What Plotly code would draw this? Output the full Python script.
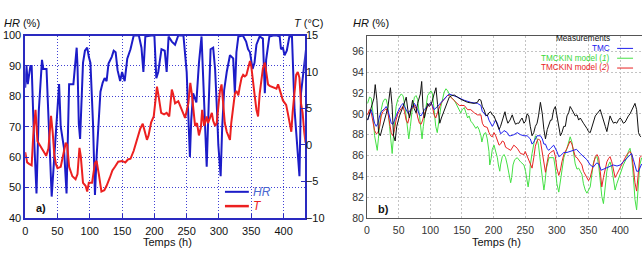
import plotly.graph_objects as go

# ---------------- Panel a) data ----------------
hr_time = [0, 2, 4, 8, 10, 13, 17.5, 21, 26, 28, 33, 37, 41, 45, 49, 52.5, 55, 60, 64, 67, 68, 74.6,
           77.7, 79.7, 81, 83, 85, 87, 89.5, 92.5, 96, 98.5, 101, 105, 108, 110.5, 113, 116.5, 120,
           123, 126, 129, 134, 137, 140, 143, 147, 150, 154, 158, 163, 168, 176, 180, 183, 186, 195,
           200, 203, 206, 211, 216, 219, 222, 227, 232, 237, 245, 250, 253, 255, 257, 260, 265, 269,
           273, 276, 278, 281, 284, 287, 291, 294, 297, 299, 302.6, 305, 308, 312, 317, 322, 324.6,
           327, 330, 337, 342, 345, 348, 350, 352, 355, 358, 363, 368, 371, 373, 378, 384, 390, 394,
           396, 399, 401.5, 405, 409, 413, 417, 422, 424.6, 427, 430, 432, 435]
hr_values = [82.8, 90, 84, 90, 90, 70, 48, 75, 92, 89, 89, 70, 47, 60, 75, 84, 70, 63, 48, 70, 84, 84,
             93, 96, 90, 71, 66, 75, 91, 95, 96, 93, 91, 71, 47.5, 60, 68, 81.5, 84.5,
             86, 85, 90.8, 93, 95, 94.5, 88.6, 85, 88, 85, 92.4, 95.5, 100, 100, 96, 88, 99.7, 100,
             100, 86, 88, 95.5, 95, 88, 99.7, 98, 97, 100, 100, 88, 72, 60, 72, 81, 78, 91,
             99.7, 85, 70, 56.8, 76.7, 95.5, 96, 89, 75, 64, 53.7, 70, 82, 88, 93.5, 92.5, 81,
             94.5, 99.7, 100, 98, 95.5, 94.5, 92, 89, 91, 97, 99.7, 99, 81, 92, 99.7, 100, 100, 99.7,
             95.5, 96, 93.5, 95, 99.7, 99.7, 75.6, 60, 53.7, 81, 87, 89, 96]

t_time = [0, 3, 6, 10, 12.5, 16, 19, 22.5, 27.5, 32.5, 36, 40, 42.5, 45, 47.5, 50, 55, 58, 62.8, 65,
          68, 73, 78, 81, 84, 86, 89.5, 93.5, 96, 98.5, 103.5, 108, 110.5, 114, 118, 122.5, 126, 131,
          135, 139, 144, 150, 155, 159, 163, 168, 173, 178, 182, 185, 188.5, 191, 195, 199, 201, 204,
          206, 210.5, 215, 219, 223, 227, 229, 232, 237, 242, 247.5, 252.6, 255.6, 258, 260, 263,
          266, 269, 272, 274, 277, 281, 283, 286, 289, 291, 294, 296.5, 299, 301.5, 304, 306.5, 309,
          312, 314, 317, 319, 322, 324.6, 327, 330, 332, 335, 337.4, 340, 342.5, 345, 348, 350,
          352.5, 355, 358, 360.5, 363, 365.5, 368, 371, 373, 376, 378.5, 383.6, 389, 391.5, 394,
          396, 399, 404, 406.5, 409, 412, 414, 417, 419.5, 422, 424.6, 427, 429.5, 432, 434]
t_values = [-1.0, -2.4, -2.6, -2.8, 1.3, 4.8, 0.5, 0.0, -0.8, -1.5, -0.5, 4.0, 1.8, -1.3, -2.6, -3.2,
            -3.0, -1.7, 0.3, 0.0, -3.0, -4.3, -4.7, -4.0, -0.4, -1.5, -5.2, -5.6, -6.4, -5.2, -5.2,
            -2.5, -2.2, -4.0, -6.4, -6.2, -5.6, -4.5, -3.5, -3.0, -2.3, -2.2, -2.4, -2.0, -1.9, -0.8,
            0.7, 2.2, 2.9, 1.8, 0.7, 1.3, 3.1, 3.9, 5.3, 8.0, 7.0, 4.4, 4.2, 4.4, 3.9, 7.6, 7.0, 5.7,
            6.0, 4.8, 3.7, 5.7, 8.5, 7.0, 4.8, 2.6, 3.0, 1.3, 2.4, 4.8, 2.6, 3.9, 3.0, 3.6, 4.4, 3.3,
            2.6, 3.0, 4.8, 7.4, 8.3, 5.9, 3.0, 1.8, 1.3, 0.7, 3.0, 5.7, 7.0, 7.4, 6.8, 7.9, 9.2, 9.6,
            9.4, 9.6, 10.5, 11.5, 10.8, 9.2, 7.0, 4.8, 3.9, 7.0, 8.8, 10.5, 11.3, 10.0, 8.3, 8.1, 7.9,
            7.7, 8.3, 7.4, 7.0, 6.1, 5.5, 4.4, 3.0, 1.8, 4.4, 7.0, 9.6, 10.0, 9.2, 5.7, 4.4, 1.8, 0.3]

# ---------------- Panel b) data ----------------
meas_time = [1, 5, 9, 11, 13, 15.7, 18.3, 21, 24, 27.7, 33, 37, 39.5, 42, 44.5, 47, 51.3, 57, 62,
             64.5, 67, 69.5, 72, 74.5, 77.5, 80, 84.3, 86.4, 88.5, 90.6, 93, 95.8, 98.5, 102, 106,
             109, 111.5, 115, 117.5, 122, 126, 130, 134, 138, 143, 148, 159, 169, 174.5, 177, 180,
             182.3, 185, 187.6, 190, 192.7, 195.4, 198, 200.7, 203.4, 206, 208.7, 211, 213.8, 216.5,
             218, 220, 222.6, 226, 229.5, 232, 234.7, 237.4, 240, 242.6, 245, 248, 250.5, 253, 255.6,
             258, 260.8, 263.5, 266, 268.7, 271, 274, 277, 279.5, 282, 284.8, 287.6, 290, 292, 295,
             297.6, 300, 303, 305.6, 308, 310.8, 313.4, 316, 318.6, 321, 323.8, 326.5, 329, 331.8,
             334.4, 337, 339.6, 342, 347.5, 350, 352.7, 355.3, 358, 360.7, 363.4, 366, 368.5, 371,
             374, 376.5, 379, 381.5, 384, 386.8, 389.5, 392, 394.7, 397.3, 400, 402.5, 405, 407.8,
             410.5, 413, 415.6, 418.3, 421, 423.4, 426, 429, 431, 433]
meas_values = [89.4, 90.2, 91.0, 91.5, 92.8, 91.3, 88.2, 87.9, 88.6, 89.4, 90.6, 92.5, 90.9, 87.9,
               87.4, 88.8, 89.8, 90.7, 91.6, 90.4, 89.6, 90.4, 91.3, 90.5, 90.1, 91.0, 91.9, 93.1,
               90.6, 89.6, 90.4, 91.0, 90.7, 91.0, 91.9, 92.5, 90.9, 89.1, 89.6, 90.4, 91.1, 91.6,
               91.75, 91.8, 91.6, 91.4, 91.1, 91.0, 91.1, 91.4, 91.3, 90.7, 90.4, 89.9, 89.8, 90.1,
               90.2, 89.9, 89.8, 89.3, 88.8, 88.5, 88.8, 89.3, 89.8, 90.2, 89.6, 89.1, 89.4, 89.9,
               89.4, 89.0, 89.1, 89.1, 89.4, 89.6, 89.1, 89.3, 90.0, 89.8, 88.8, 87.9, 88.2, 88.8,
               89.1, 89.8, 91.1, 90.0, 88.5, 87.6, 88.5, 89.1, 89.4, 89.4, 90.4, 90.7, 89.8, 88.5,
               87.9, 88.2, 88.8, 88.8, 89.8, 90.1, 90.7, 90.4, 90.0, 89.8, 89.9, 89.4, 89.6, 89.3,
               89.1, 88.6, 88.3, 88.2, 88.7, 89.4, 89.8, 90.0, 90.2, 90.4, 89.9, 89.4, 88.8, 88.3,
               89.2, 89.8, 89.4, 89.1, 89.2, 89.1, 89.4, 89.6, 89.4, 89.1, 89.2, 89.6, 89.8, 90.0,
               90.4, 90.8, 91.0, 90.4, 88.2, 87.9, 87.8]

tmc_time = [1, 4, 6.8, 9.4, 12, 14.6, 17.3, 20, 22.5, 27.7, 30.3, 33, 35.6, 38.3, 41, 43.5, 46,
            48.7, 54, 56.9, 59.3, 64.4, 67, 69.7, 75, 77.5, 80, 82.8, 85.4, 90.6, 95.8, 101, 103.4,
            106, 111.3, 116.8, 122, 127, 130, 135, 143, 153.7, 164, 174.5, 180, 182.3, 185, 187.6,
            190, 192.7, 195.4, 198, 200.7, 203, 206, 208.7, 211, 213.8, 216.5, 221.7, 224.4, 227,
            232, 237.4, 242.6, 248, 253, 258, 260.8, 263.5, 266, 268.7, 274, 277, 279.5, 282, 284.5,
            287, 290, 295, 300, 303, 306, 311, 316, 321, 326, 331, 337, 342, 347.5, 352.7, 357.6,
            363, 366, 370, 374, 379, 384, 389, 395, 400, 405, 410, 415, 418, 421, 424, 426, 429,
            432, 434]
tmc_values = [89.4, 89.9, 90.4, 89.8, 89.1, 88.8, 89.1, 89.8, 90.2, 90.5, 90.7, 90.4, 89.8, 89.1,
              89.0, 89.4, 89.9, 90.2, 90.8, 91.0, 90.7, 90.1, 90.2, 90.5, 91.0, 90.7, 90.4, 89.9,
              89.8, 90.4, 90.8, 91.1, 90.8, 90.4, 90.7, 91.1, 91.4, 91.75, 91.9, 91.8, 91.6, 91.3,
              91.1, 91.0, 90.8, 90.2, 90.1, 89.8, 89.9, 89.4, 89.1, 88.8, 89.1, 89.4, 89.1, 88.4,
              88.1, 88.2, 88.4, 88.2, 87.9, 87.9, 88.0, 88.2, 88.0, 87.9, 87.9, 87.6, 87.1, 87.3,
              87.6, 87.9, 87.9, 87.6, 87.1, 87.1, 86.7, 86.5, 86.7, 87.0, 86.4, 85.9, 86.0, 86.3,
              86.3, 86.4, 86.5, 86.6, 86.2, 85.9, 85.6, 85.1, 84.9, 85.3, 85.2, 84.6, 84.7, 84.9,
              85.0, 85.1, 85.0, 85.1, 85.4, 85.7, 86.0, 86.2, 85.6, 85.0, 84.5, 84.5, 85.0, 85.2]

m1_time = [1, 4, 6.8, 9.4, 12, 14.6, 16.2, 18, 20, 22.5, 25, 27.7, 30.3, 33, 35.6, 38.3, 39.8, 41.5,
           43.5, 46, 48.7, 54, 56.9, 59.3, 61.8, 64.4, 66, 68.5, 72, 75, 77.5, 80, 82.8, 85.4, 87,
           89, 93, 95.8, 101, 103.4, 106, 108.6, 111, 113.5, 116.8, 122, 124.8, 127.5, 130, 132.5,
           138, 143, 148, 150.5, 153.7, 156.4, 159, 161.4, 164, 166.8, 169.5, 172, 174.5, 177, 180,
           181.5, 183.5, 185, 187.6, 190, 192.7, 194, 196, 198, 200.7, 203.4, 206, 207.6, 209.8,
           211, 213.8, 216.5, 219, 221.7, 224.4, 227, 228.6, 230.7, 233.3, 237.4, 242.6, 248, 250.5,
           253, 254.6, 256.7, 258, 260.8, 263.5, 266, 268.7, 271, 274, 277, 279.5, 281, 283.5,
           287.6, 290, 295, 297.6, 300, 303, 305.6, 308, 311, 316, 318.6, 321, 323.8, 326.5, 329,
           331.8, 334.4, 337, 339.6, 342, 344.8, 347.5, 350, 352.7, 355.3, 358, 360.7, 363.4, 366,
           368.5, 371, 373.6, 376.5, 379, 381.5, 384, 386.8, 389.5, 392, 394.7, 400, 405, 410.5,
           413, 415.6, 418.3, 421, 423.4, 426, 428.7, 431, 434]
m1_values = [91.0, 91.6, 91.5, 90.1, 87.9, 86.7, 86.5, 87.6, 88.8, 90.4, 91.1, 91.4, 91.4, 90.7,
             88.8, 86.7, 86.2, 87.6, 89.4, 90.7, 91.4, 91.9, 91.75, 91.0, 89.8, 88.2, 87.6, 88.8,
             90.7, 91.6, 91.75, 91.4, 89.8, 88.2, 87.6, 88.8, 90.9, 91.75, 92.2, 91.9, 90.4, 88.8,
             88.2, 89.1, 90.7, 92.1, 92.4, 92.2, 91.9, 91.6, 91.3, 90.7, 90.1, 90.4, 90.6, 90.1,
             89.6, 89.8, 89.3, 89.1, 88.8, 88.6, 88.8, 88.5, 87.9, 87.3, 87.8, 88.1, 88.2, 87.6,
             86.4, 85.1, 85.7, 86.6, 87.0, 86.5, 85.8, 85.1, 84.5, 85.1, 85.9, 86.1, 85.8, 85.1,
             84.2, 83.4, 83.9, 85.1, 85.6, 85.8, 85.4, 85.1, 84.5, 83.6, 83.0, 83.9, 85.1, 86.2,
             87.3, 87.9, 87.6, 87.0, 85.4, 84.0, 82.7, 83.3, 84.8, 85.8, 85.8, 85.8, 84.8, 83.3,
             82.5, 83.6, 84.8, 85.8, 86.7, 87.4, 87.8, 87.3, 86.1, 85.2, 84.7, 84.8, 84.5, 84.2,
             83.3, 82.7, 82.4, 82.7, 83.0, 84.2, 85.4, 85.8, 85.9, 85.1, 83.6, 82.1, 81.4, 83.0,
             84.5, 85.1, 85.4, 84.8, 83.6, 82.7, 83.3, 84.2, 85.1, 85.8, 86.4, 86.7, 85.8, 83.9,
             81.8, 80.8, 83.0, 85.1, 85.8]

m2_time = [1, 4, 6.8, 9.4, 12, 14.6, 17.3, 20, 22.5, 25, 27.7, 30.3, 33, 35.6, 38.3, 41, 43.5, 46,
           48.7, 54, 56.9, 59.3, 61.8, 64.4, 67, 69.7, 75, 77.5, 80, 82.8, 85.4, 88, 90.6, 95.8,
           101, 103.4, 106, 108.6, 111.3, 116.8, 122, 127, 130, 135, 140.5, 146, 153.7, 159, 164,
           169.5, 174.5, 180, 182.3, 185, 190, 192.7, 195.4, 198, 200.7, 203.4, 206, 208.7, 211,
           213.8, 216.5, 219, 221.7, 227, 232, 237.4, 242.6, 248, 250, 253, 258, 260.8, 263.5, 266,
           268.7, 271, 274, 277, 279.5, 282, 284.5, 287, 290, 295, 297.6, 300, 303, 305.6, 308, 311,
           316, 318.6, 321, 323.8, 326.5, 329, 331.8, 337, 339.6, 342, 347.5, 350, 352.7, 355.3,
           358, 360.7, 363.4, 366, 368.5, 371, 373.6, 376.5, 379, 381.5, 384, 386.8, 389.5, 392,
           394.7, 400, 405, 410.5, 415.6, 418.3, 421, 423.4, 426, 428.7, 431, 434]
m2_values = [89.9, 90.4, 90.1, 89.1, 88.4, 88.1, 88.2, 88.8, 89.8, 90.2, 90.4, 90.5, 90.1, 89.1,
             88.2, 87.9, 88.5, 89.4, 90.0, 90.5, 90.7, 90.2, 89.4, 89.1, 89.7, 90.4, 90.8, 90.5,
             89.7, 89.1, 89.0, 89.4, 90.0, 90.7, 91.1, 90.7, 89.9, 89.6, 90.1, 91.0, 91.4, 91.75,
             91.75, 91.4, 91.1, 90.8, 90.8, 90.4, 90.4, 90.1, 89.9, 89.9, 89.1, 88.8, 88.7, 88.2,
             87.9, 87.8, 88.2, 87.9, 87.4, 87.0, 87.1, 87.4, 87.3, 86.8, 86.7, 86.5, 87.0, 86.7,
             86.2, 86.1, 86.4, 85.9, 85.1, 84.8, 85.8, 86.9, 87.4, 87.6, 87.4, 86.2, 85.1, 84.4,
             85.3, 86.1, 86.3, 86.5, 85.9, 84.8, 84.1, 84.6, 85.4, 86.1, 86.7, 87.1, 87.4, 87.1,
             86.4, 85.9, 85.8, 85.3, 85.1, 84.5, 83.9, 83.6, 83.9, 84.5, 85.4, 85.9, 86.1, 85.8,
             84.5, 83.0, 83.9, 84.8, 85.4, 85.7, 85.9, 85.4, 84.5, 83.9, 84.2, 84.8, 85.4, 86.1,
             86.4, 86.1, 84.8, 83.4, 82.6, 84.5, 85.8, 86.0]

x_ticks = [0, 50, 100, 150, 200, 250, 300, 350, 400]
hr_ticks_a = [40, 50, 60, 70, 80, 90, 100]
t_ticks_a = [-10, -5, 0, 5, 10, 15]
hr_ticks_b = [80, 82, 84, 86, 88, 90, 92, 94, 96]

FONT = "Liberation Sans, Arial, sans-serif"
W, H = 642, 255

def px(x):
    return x / W

def py(y):
    return 1 - y / H

BLUE_A = "#1c1cc8"
RED_A = "#ec2020"
AXIS_A = "#2a2ac0"

fig = go.Figure()

# panel a
fig.add_trace(go.Scatter(x=hr_time, y=hr_values, mode="lines", xaxis="x", yaxis="y",
                         line=dict(color=BLUE_A, width=2), showlegend=False))
fig.add_trace(go.Scatter(x=t_time, y=t_values, mode="lines", xaxis="x", yaxis="y2",
                         line=dict(color=RED_A, width=2), showlegend=False))

# panel b
fig.add_trace(go.Scatter(x=m1_time, y=m1_values, mode="lines", xaxis="x2", yaxis="y3",
                         line=dict(color="#44e044", width=1), showlegend=False))
fig.add_trace(go.Scatter(x=m2_time, y=m2_values, mode="lines", xaxis="x2", yaxis="y3",
                         line=dict(color="#e82222", width=1), showlegend=False))
fig.add_trace(go.Scatter(x=tmc_time, y=tmc_values, mode="lines", xaxis="x2", yaxis="y3",
                         line=dict(color="#2020ee", width=1), showlegend=False))
fig.add_trace(go.Scatter(x=meas_time, y=meas_values, mode="lines", xaxis="x2", yaxis="y3",
                         line=dict(color="#111111", width=1), showlegend=False))

tickfont_a = dict(family=FONT, size=11, color="#111111")
tickfont_b = dict(family=FONT, size=10.5, color="#333333")

fig.update_layout(
    width=W, height=H,
    margin=dict(l=0, r=0, t=0, b=0),
    paper_bgcolor="white", plot_bgcolor="white",
    showlegend=False,
    xaxis=dict(domain=[px(22.3), px(303.3)], range=[0, 433], anchor="y",
               tickvals=x_ticks, ticks="inside", ticklen=4, tickcolor=AXIS_A,
               showline=True, linecolor=AXIS_A, linewidth=1.5, mirror=True,
               showgrid=True, gridcolor="#4040d4", griddash="1px,2px", gridwidth=1,
               zeroline=False, tickfont=tickfont_a, ticklabelstandoff=2),
    yaxis=dict(domain=[py(222.3), py(31)], range=[40, 100], anchor="x",
               tickvals=hr_ticks_a, ticks="inside", ticklen=4, tickcolor=AXIS_A,
               showline=True, linecolor=AXIS_A, linewidth=1.5, mirror=True,
               showgrid=True, gridcolor="#4040d4", griddash="1px,2px", gridwidth=1,
               zeroline=False, tickfont=tickfont_a),
    yaxis2=dict(overlaying="y", side="right", anchor="x", range=[-10, 15],
                tickvals=t_ticks_a, ticks="inside", ticklen=4, tickcolor=AXIS_A,
                showline=False, showgrid=False, zeroline=False, tickfont=tickfont_a),
    xaxis2=dict(domain=[px(365.7), 1.0], range=[0, 434.5], anchor="y3",
                tickvals=x_ticks, ticks="", showline=True, linecolor="#555555",
                linewidth=1, mirror=True, showgrid=True, gridcolor="#c4c4c4",
                griddash="2px,2px", gridwidth=1, zeroline=False, tickfont=tickfont_b,
                ticklabelstandoff=2),
    yaxis3=dict(domain=[py(222.7), py(31)], range=[80, 97.5], anchor="x2",
                tickvals=hr_ticks_b, ticks="", showline=True, linecolor="#555555",
                linewidth=1, mirror=False, showgrid=True, gridcolor="#c4c4c4",
                griddash="2px,2px", gridwidth=1, zeroline=False, tickfont=tickfont_b),
)

ann = []
def text(x, y, s, size=11, color="#111111", xanchor="left", yanchor="middle"):
    ann.append(dict(x=px(x), y=py(y), xref="paper", yref="paper", text=s, showarrow=False,
                    xanchor=xanchor, yanchor=yanchor, borderpad=0,
                    font=dict(family=FONT, size=size, color=color)))

# panel a labels
text(0, 17.5, "<i>HR</i> (%)", size=11)
text(323, 17.5, "<i>T</i> (°C)", size=11, xanchor="right")
text(165, 255.5, "Temps (h)", size=11, xanchor="center", yanchor="bottom")
text(32, 212, "<b>a)</b>", size=11)
text(250, 195, "<i>HR</i>", size=12, color="#4a68d0")
text(250, 210, "<i>T</i>", size=12, color=RED_A)

# panel b labels (gnuplot-style key, text left of sample line)
text(351, 17.5, "<i>HR</i> (%)", size=11)
text(496, 255.5, "Temps (h)", size=11, xanchor="center", yanchor="bottom")
text(376, 213, "<b>b)</b>", size=11)
text(611, 34.0, "Measurements", size=8.2, xanchor="right")
text(611, 44.3, "TMC", size=8.2, color="#2020ee", xanchor="right")
text(611, 54.6, "TMCKIN model (<i>1</i>)", size=8.2, color="#3ad83a", xanchor="right")
text(611, 64.9, "TMCKIN model (<i>2</i>)", size=8.2, color="#e82222", xanchor="right")

fig.update_layout(annotations=ann)

shapes = [
    dict(type="line", xref="paper", yref="paper", x0=px(223), x1=px(247), y0=py(195), y1=py(195),
         line=dict(color=BLUE_A, width=2)),
    dict(type="line", xref="paper", yref="paper", x0=px(223), x1=px(247), y0=py(210), y1=py(210),
         line=dict(color=RED_A, width=2.5)),
    dict(type="line", xref="paper", yref="paper", x0=px(617), x1=px(633), y0=py(44.5), y1=py(44.5),
         line=dict(color="#2020ee", width=1)),
    dict(type="line", xref="paper", yref="paper", x0=px(617), x1=px(633), y0=py(54.8), y1=py(54.8),
         line=dict(color="#44e044", width=1)),
    dict(type="line", xref="paper", yref="paper", x0=px(617), x1=px(633), y0=py(65.1), y1=py(65.1),
         line=dict(color="#e82222", width=1)),
]
fig.update_layout(shapes=shapes)

fig.write_html("out.html")
